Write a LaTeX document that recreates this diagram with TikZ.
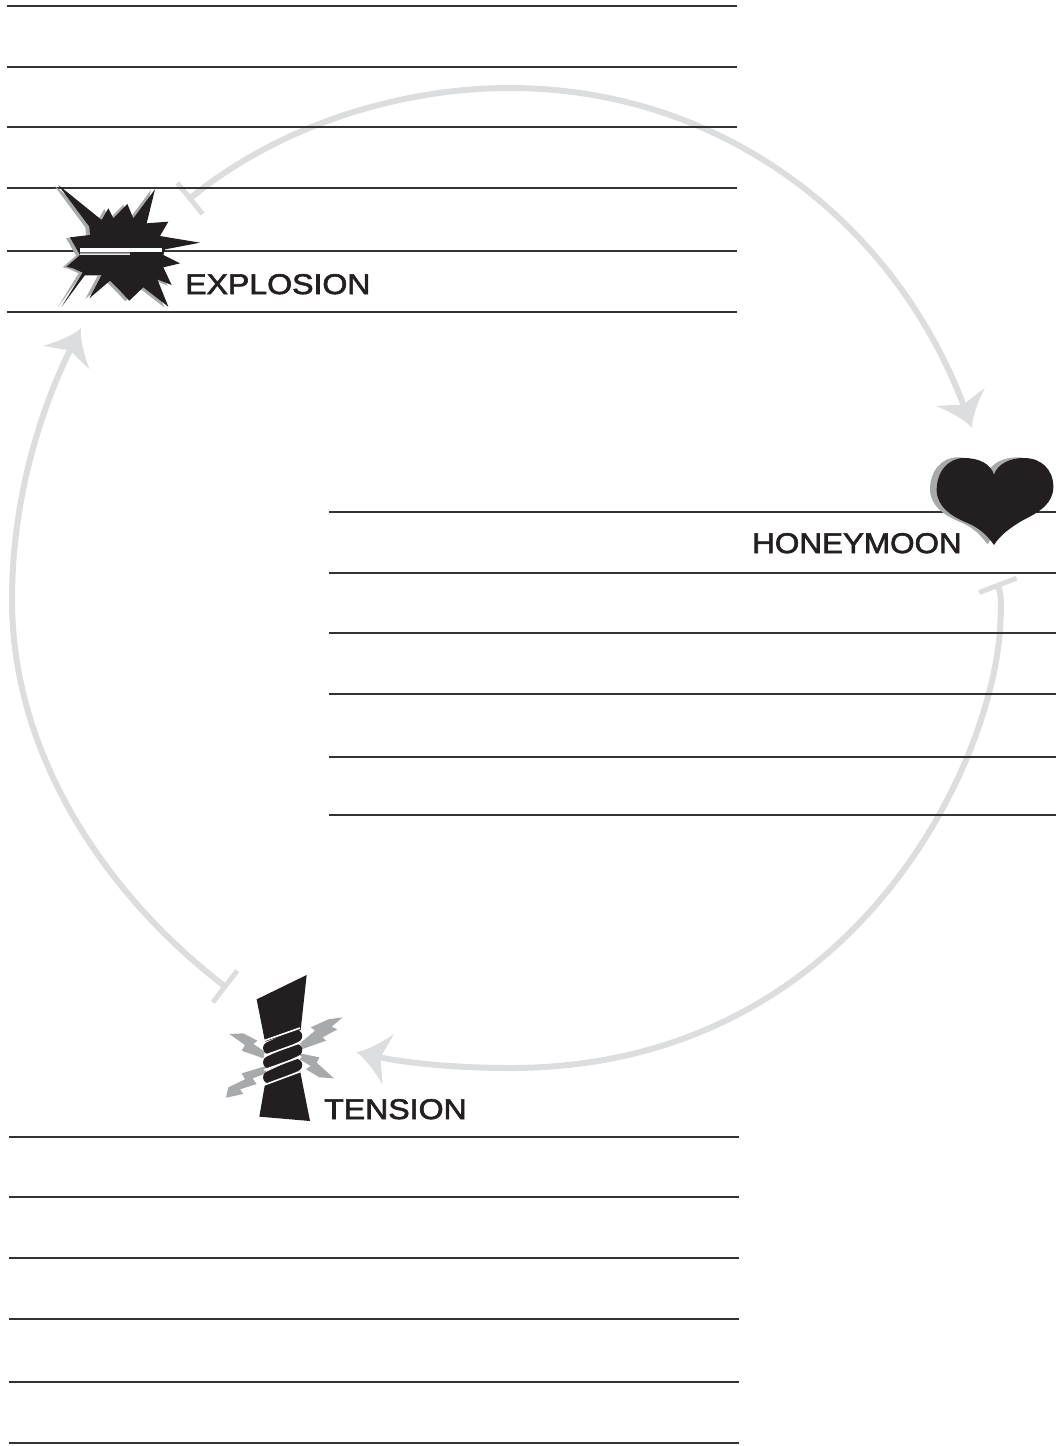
\documentclass[tikz,border=0pt]{standalone}
\usepackage{graphicx}
\usepackage{fontspec}
\setmainfont[FakeStretch=1.125,FakeBold=2.2]{Liberation Sans}
\usetikzlibrary{arrows.meta}
\definecolor{ink}{HTML}{231F20}
\definecolor{rule}{HTML}{333333}
\definecolor{arc}{HTML}{DCDDDE}
\definecolor{shade}{HTML}{A8A9AB}
\pgfdeclarearrow{
  name=Barb,
  setup code={\pgfarrowssettipend{0pt}\pgfarrowssetbackend{-33pt}\pgfarrowssetlineend{-20pt}\pgfarrowssetvisualbackend{-25pt}},
  drawing code={
    \pgfpathmoveto{\pgfpoint{0pt}{0pt}}
    \pgfpathcurveto{\pgfpoint{-9pt}{3pt}}{\pgfpoint{-22pt}{14pt}}{\pgfpoint{-33pt}{26pt}}
    \pgfpathcurveto{\pgfpoint{-30pt}{15pt}}{\pgfpoint{-27pt}{7pt}}{\pgfpoint{-25pt}{0pt}}
    \pgfpathcurveto{\pgfpoint{-27pt}{-7pt}}{\pgfpoint{-30pt}{-15pt}}{\pgfpoint{-33pt}{-26pt}}
    \pgfpathcurveto{\pgfpoint{-22pt}{-14pt}}{\pgfpoint{-9pt}{-3pt}}{\pgfpoint{0pt}{0pt}}
    \pgfpathclose
    \pgfusepathqfill}
}
\tikzset{
  rulingline/.style={draw=rule,line width=1.7pt},
  cycle arc/.style={draw=arc,line width=6pt,{Bar[width=40pt,line width=5pt]}-{Barb}},
  phase/.style={inner sep=0pt,anchor=base west,text=ink,font=\fontsize{28.5}{30}\selectfont},
  dark/.style={fill=ink,draw=none},
  grey/.style={fill=shade,draw=none},
  coilturn/.style={draw=ink,line width=12.5pt,line cap=round},
  coilgap/.style={draw=white,line width=1.6pt}
}
\begin{document}
\begin{tikzpicture}[x=1pt,y=-1pt]
\useasboundingbox (0,0) rectangle (1056,1446);
% connector ends
\coordinate (explosionOut) at (188,200);
\coordinate (honeyIn) at (972,428);
\coordinate (honeyOut) at (997,583);
\coordinate (tensionIn) at (356,1052);
\coordinate (tensionOut) at (227,988);
\coordinate (explosionIn) at (81,328);
% cycle
\draw[cycle arc] (explosionOut) .. controls (280,125) and (400,88) .. (510,88)
  .. controls (720,88) and (895,220) .. (honeyIn);
\draw[cycle arc] (honeyOut) .. controls (1002,596) and (1001,612) .. (1000,630)
  .. controls (990,770) and (850,1068) .. (510,1068)
  .. controls (450,1068) and (400,1062) .. (tensionIn);
\draw[cycle arc] (tensionOut) .. controls (100,890) and (12,750) .. (12,600)
  .. controls (12,500) and (40,410) .. (explosionIn);
% ruled lines
\foreach \y in {6,67,127,188,251,312} \draw[rulingline] (7,\y) -- (737,\y);
\foreach \y in {512,573,633,694,757,815} \draw[rulingline] (329,\y) -- (1056,\y);
\foreach \y in {1137,1197,1258,1319,1382,1443} \draw[rulingline] (9,\y) -- (739,\y);
% explosion icon
\begin{scope}[shift={(30,160)},scale=1/3]
  \def\burst{(85,75) -- (215,180) -- (235,145) -- (250,175) -- (292,132) -- (310,175) -- (375,88) -- (350,190) -- (415,185) -- (390,228) -- (510,248) -- (405,268) -- (400,285) -- (450,310) -- (400,322) -- (425,375) -- (382,358) -- (415,440) -- (340,382) -- (298,422) -- (270,392) -- (240,362) -- (178,415) -- (215,345) -- (165,345) -- (95,440) -- (158,338) -- (130,325) -- (110,320) -- (150,285) -- (120,232) -- (180,225) -- (178,200) -- cycle}
  \fill[grey,shift={(-12,2)}] \burst;
  \fill[dark] \burst;
  \fill[white] (150,264) rectangle (395,277);
  \fill[shade] (150,277) rectangle (300,283);
\end{scope}
% heart icon
\begin{scope}[shift={(880,370)},scale=1/3]
  \def\heart{(342,314) .. controls (332,282) and (298,264) .. (252,264)
    .. controls (205,264) and (170,305) .. (170,360)
    .. controls (170,410) and (215,440) .. (265,460)
    .. controls (300,475) and (325,500) .. (342,525)
    .. controls (360,495) and (395,470) .. (430,450)
    .. controls (480,425) and (520,400) .. (520,350)
    .. controls (520,300) and (485,264) .. (432,264)
    .. controls (390,264) and (352,282) .. (342,314) -- cycle}
  \fill[grey,shift={(-20,-2)}] \heart;
  \fill[dark] \heart;
\end{scope}
% tension icon
\begin{scope}[shift={(200,960)},scale=1/3]
  \fill[grey] (300,250) -- (345,212) -- (332,202) -- (385,178) -- (428,172) -- (395,200) -- (412,208) -- (368,232) -- (378,242) -- (305,268) -- cycle;
  \fill[grey] (190,295) -- (125,272) -- (135,255) -- (88,222) -- (130,220) -- (172,242) -- (160,252) -- (195,275) -- cycle;
  \fill[grey] (300,280) -- (358,292) -- (350,308) -- (402,355) -- (358,352) -- (318,328) -- (332,318) -- (300,298) -- cycle;
  \fill[grey] (198,318) -- (125,340) -- (135,358) -- (85,382) -- (78,413) -- (130,402) -- (120,388) -- (170,372) -- (158,355) -- (198,340) -- cycle;
  \fill[dark] (170,118) -- (320,45) -- (302,210) -- (195,245) -- cycle;
  \fill[dark] (195,372) -- (300,332) -- (330,483) -- (178,470) -- cycle;
  \draw[coilturn] (208,264) -- (288,228);
  \draw[coilturn] (208,307) -- (288,270);
  \draw[coilturn] (208,352) -- (288,315);
  \draw[coilgap] (192,242) -- (300,204);
  \draw[coilgap] (192,287) -- (304,247);
  \draw[coilgap] (192,330) -- (304,290);
  \draw[coilgap] (192,375) -- (300,335);
\end{scope}
% labels
\node[phase] (explosionLabel) at (185,294) {EXPLOSION};
\node[phase] (honeymoonLabel) at (752,553) {\scalebox{.98}[1]{HONEYMOON}};
\node[phase] (tensionLabel) at (324,1119) {TENSION};
\end{tikzpicture}
\end{document}
